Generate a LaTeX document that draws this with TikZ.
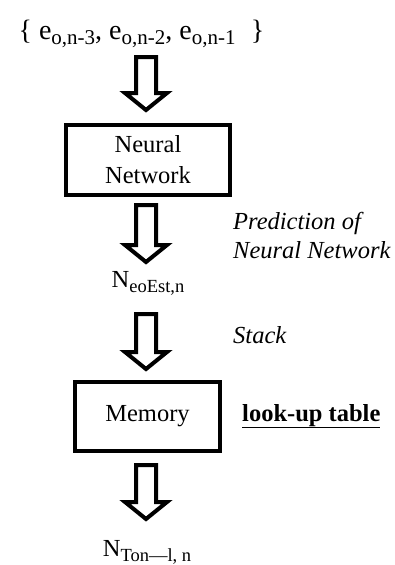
\documentclass[tikz,border=0pt]{standalone}
\usepackage{fontspec}
\setmainfont{Liberation Serif}
\usetikzlibrary{calc}
\newcommand{\sbs}[1]{\raisebox{-0.5ex}{\fontsize{18.5}{18.5}\selectfont #1}}
\newcommand{\sbt}[1]{\raisebox{-0.45ex}{\fontsize{21}{21}\selectfont #1}}
\begin{document}
\begin{tikzpicture}[x=1pt,y=-1pt,
  thickbox/.style={draw, line width=4pt, rectangle, inner sep=0pt, align=center,
    font=\fontsize{24.5}{31}\selectfont},
  lbl/.style={inner sep=0pt, anchor=base west, font=\fontsize{24.5}{29.5}\selectfont},
  blockarrow/.style={draw, line width=4pt, line join=miter, fill=white}]
\useasboundingbox (0,0) rectangle (395,565);

% nodes
\node[inner sep=0pt, anchor=base, font=\fontsize{28}{30}\selectfont] (top) at (141.5,39)
  {\{ e\sbt{o,n-3}, e\sbt{o,n-2}, e\sbt{o,n-1}\hspace{0.3em} \}};
\node[thickbox, minimum width=164, minimum height=70] (nn) at (148,160)
  {Neural\\Network};
\node[lbl, font=\fontsize{24.5}{29.5}\itshape\selectfont, align=left, anchor=north west] (pred) at (233,212)
  {Prediction of\\Neural Network};
\node[inner sep=0pt, anchor=base, font=\fontsize{24.5}{26}\selectfont] (neo) at (148,287)
  {N\sbs{eoEst,n}};
\node[lbl, font=\fontsize{24.5}{26}\itshape\selectfont] (stack) at (233,343) {Stack};
\node[thickbox, minimum width=145, minimum height=69] (mem) at (147.5,416.5) {Memory};
\node[lbl, font=\fontsize{24.5}{26}\bfseries\selectfont] (lut) at (242,421)
  {\underline{look-up table}};
\node[inner sep=0pt, anchor=base, font=\fontsize{24.5}{26}\selectfont] (nton) at (147,556)
  {N\sbs{Ton—l, n}};

% block arrows: start coordinate and tip coordinate
\coordinate (a1s) at (146,57);  \coordinate (a1t) at (146,110);
\coordinate (a2s) at (146,205); \coordinate (a2t) at (146,262);
\coordinate (a3s) at (146,314); \coordinate (a3t) at (146,369);
\coordinate (a4s) at (146,465); \coordinate (a4t) at (146,519);

\foreach \s/\t in {a1s/a1t, a2s/a2t, a3s/a3t, a4s/a4t}{
  \draw[blockarrow]
    ($(\s)+(-10,0)$) -- ($(\s)+(10,0)$) -- ($(\t)+(10,-17)$) -- ($(\t)+(21,-17)$)
    -- (\t) -- ($(\t)+(-21,-17)$) -- ($(\t)+(-10,-17)$) -- cycle;
}
\end{tikzpicture}
\end{document}
